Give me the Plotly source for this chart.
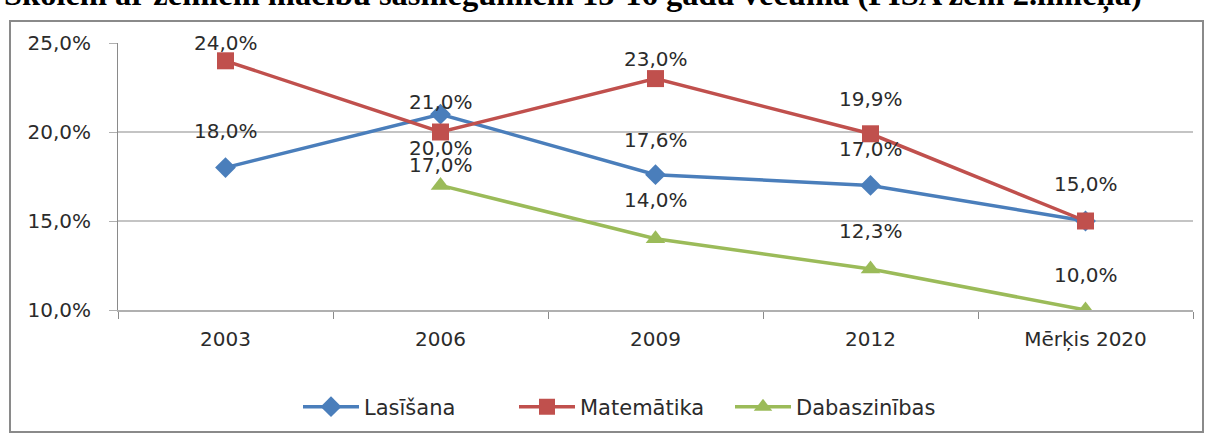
import plotly.graph_objects as go

categories = ["2003", "2006", "2009", "2012", "Mērķis 2020"]
lasisana = [18.0, 21.0, 17.6, 17.0, 15.0]
matematika = [24.0, 20.0, 23.0, 19.9, 15.0]
dabaszinibas = [None, 17.0, 14.0, 12.3, 10.0]

# label vertical offsets (px) for the data labels
las_shift = [37, 12, 35, 36, 37]
mat_shift = [18, -16, 20, 35, None]
dab_shift = [None, 20, 39, 38, 35]

y_ticks = [10, 15, 20, 25]
y_tick_labels = ["10,0%", "15,0%", "20,0%", "25,0%"]

title_text = "Skolēni ar zemiem mācību sasniegumiem 15-16 gadu vecumā (PISA zem 2.līmeņa)"

FONT = "DejaVu Sans"
TXT = "#2b2b2b"

series = [
    ("Lasīšana", lasisana, "#4a7ebb", "diamond", 16, las_shift),
    ("Matemātika", matematika, "#c0504d", "square", 17, mat_shift),
    ("Dabaszinības", dabaszinibas, "#9bbb59", "triangle-up", 17, dab_shift),
]

W, H = 1211, 434
ml, mr, mt, mb = 118, 18, 43, 124
pw, ph = W - ml - mr, H - mt - mb

def px_x(x):
    return (x - ml) / pw

def px_y(y):
    return (H - mb - y) / ph

fig = go.Figure()
annotations = []
for name, vals, col, sym, msz, shifts in series:
    fig.add_trace(go.Scatter(
        x=categories, y=vals, name=name, mode="lines+markers",
        line=dict(color=col, width=3.5),
        marker=dict(symbol=sym, size=msz, color=col, line=dict(width=0)),
        connectgaps=False,
    ))
    for i, (v, s) in enumerate(zip(vals, shifts)):
        if v is None or s is None:
            continue
        annotations.append(dict(
            x=i, y=v, xref="x", yref="y", text=f"{v:.1f}%".replace(".", ","),
            showarrow=False, yshift=s, yanchor="middle",
            font=dict(family=FONT, size=20, color=TXT),
        ))

annotations.append(dict(
    x=px_x(2), y=px_y(-6), xref="paper", yref="paper", text="<b>" + title_text + "</b>",
    showarrow=False, xanchor="left", yanchor="middle",
    font=dict(family="Liberation Serif", size=32.5, color="#000000"),
))

fig.update_layout(
    width=W, height=H,
    margin=dict(l=ml, r=mr, t=mt, b=mb, autoexpand=False),
    paper_bgcolor="white", plot_bgcolor="white",
    showlegend=True,
    legend=dict(orientation="h", x=px_x(622), y=px_y(407), xanchor="center", yanchor="middle",
                font=dict(family=FONT, size=21, color=TXT), itemwidth=56,
                entrywidth=145, entrywidthmode="pixels",
                bgcolor="rgba(0,0,0,0)"),
    annotations=annotations,
    shapes=[dict(type="rect", xref="paper", yref="paper",
                 x0=px_x(10), x1=px_x(1203), y0=px_y(432), y1=px_y(21),
                 line=dict(color="#8a8a8a", width=2), layer="below")],
    xaxis=dict(type="category", categoryorder="array", categoryarray=categories,
               showgrid=False, showline=True, linecolor="#b0b0b0", linewidth=2,
               ticks="outside", tickson="boundaries", ticklen=7, tickcolor="#8a8a8a",
               tickfont=dict(family=FONT, size=20, color=TXT), ticklabelstandoff=10,
               range=[-0.5, 4.5], fixedrange=True),
    yaxis=dict(range=[10, 25], tickvals=y_ticks, ticktext=y_tick_labels,
               showgrid=True, gridcolor="#c4c4c4", gridwidth=2,
               showline=True, linecolor="#8a8a8a", linewidth=1,
               ticks="outside", ticklen=8, tickcolor="#b0b0b0",
               tickfont=dict(family=FONT, size=20, color=TXT), ticklabelstandoff=14,
               zeroline=False, fixedrange=True),
)

fig.write_html("out.html", config={"displayModeBar": False},
               post_script="document.body.style.margin='0px';")
